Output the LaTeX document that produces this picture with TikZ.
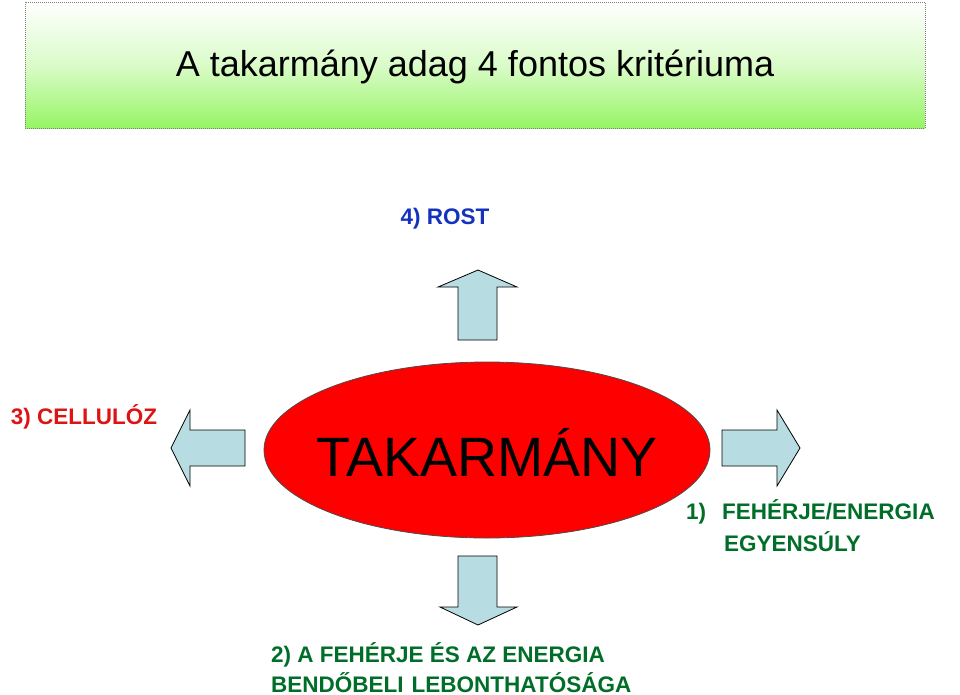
\documentclass[tikz,border=0pt]{standalone}
\usepackage{fontspec}
\setmainfont{Liberation Sans}
\usetikzlibrary{shapes.geometric}
\begin{document}
\begin{tikzpicture}[x=1pt,y=-1pt,
  arr/.style={draw=black,fill=arrowfill,line width=0.8pt,line join=miter},
  lbl/.style={font=\bfseries\fontsize{22.5}{26}\selectfont,inner sep=0pt,align=left}]
\definecolor{arrowfill}{RGB}{183,221,226}
\definecolor{tgreen}{RGB}{150,245,100}
\definecolor{dblue}{RGB}{20,50,190}
\definecolor{dgreen}{RGB}{0,110,40}
\definecolor{dred}{RGB}{220,20,20}
\useasboundingbox (0,0) rectangle (960,694);
\shade[bottom color=tgreen,top color=white,middle color=tgreen!35!white] (25,2) rectangle (925,128);
\draw[gray,densely dotted,line width=1pt] (25,2) rectangle (925,128);
\node[font=\fontsize{36}{42}\selectfont] (title) at (475,67) {A takarmány adag 4 fontos kritériuma};
\node[draw=black!70,fill=red,line width=0.8pt,ellipse,minimum width=446pt,minimum height=176pt,inner sep=0pt] (main) at (487,450) {};
\node[font=\fontsize{55.5}{62}\selectfont] (mt) at (487,452) {TAKARMÁNY};
\path[arr] (458,340) -- (458,287) -- (438,287) -- (478,270) -- (517,287) -- (497,287) -- (497,340) -- cycle;
\path[arr] (458,556) -- (458,607) -- (440,607) -- (478,625) -- (517,607) -- (497,607) -- (497,556) -- cycle;
\path[arr] (245,430) -- (190,430) -- (190,410) -- (171,448) -- (190,486) -- (190,466) -- (245,466) -- cycle;
\path[arr] (722,430) -- (777,430) -- (777,410) -- (800,448) -- (777,486) -- (777,466) -- (722,466) -- cycle;
\node[lbl,text=dblue] (rost) at (445,219) {4) ROST};
\node[lbl,text=dred] (cell) at (84,417) {3) CELLULÓZ};
\node[lbl,text=dgreen,anchor=west] (feh) at (686,512) {1)\hspace{16pt}FEHÉRJE/ENERGIA};
\node[lbl,text=dgreen,anchor=west] (egy) at (724,542) {EGYENSÚLY};
\node[lbl,text=dgreen,anchor=west] (a2) at (271,655) {2) A FEHÉRJE ÉS AZ ENERGIA};
\node[lbl,text=dgreen,anchor=west] (b2) at (271,683) {BENDŐBELI\hspace{8pt}LEBONTHATÓSÁGA};
\end{tikzpicture}
\end{document}
